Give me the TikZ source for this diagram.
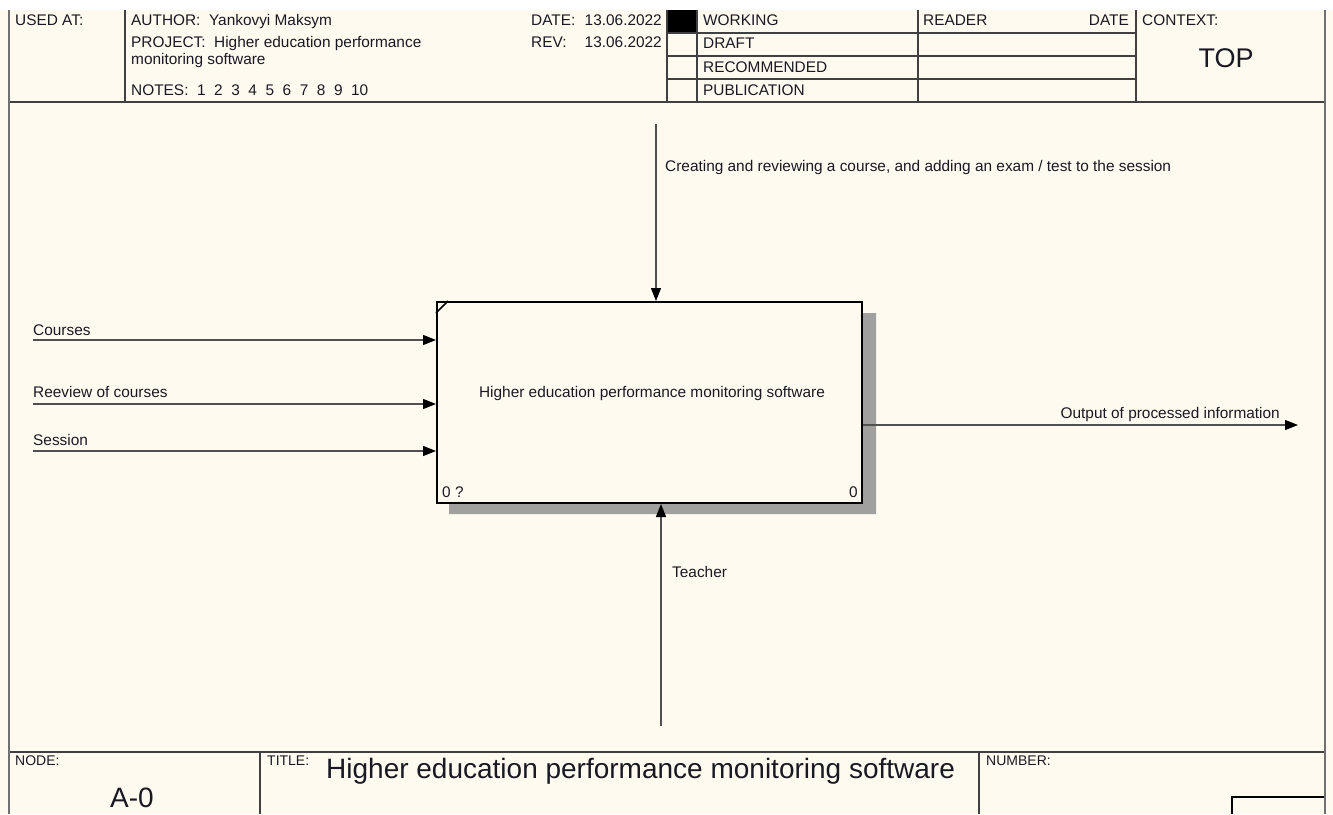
\documentclass[tikz,border=0pt]{standalone}
\usepackage{fontspec}
\setmainfont{Liberation Sans}
\usetikzlibrary{arrows.meta}
\definecolor{paper}{RGB}{255,250,239}
\definecolor{framegray}{RGB}{112,112,112}
\definecolor{gridgray}{RGB}{64,64,64}
\definecolor{linegray}{RGB}{80,80,80}
\definecolor{shadowgray}{RGB}{160,160,158}
\definecolor{ink}{RGB}{25,25,35}
\begin{document}
\begin{tikzpicture}[x=1pt,y=-1pt,
  txt/.style={font=\fontsize{15.4}{18}\selectfont, inner sep=0pt, anchor=base west, text=ink},
  txtr/.style={txt, anchor=base east},
  small/.style={txt, font=\fontsize{14}{16}\selectfont},
  big/.style={txt, font=\fontsize{28}{32}\selectfont},
  grid/.style={draw=gridgray, line width=1.3pt},
  frame/.style={draw=framegray, line width=2.4pt},
  flow/.style={draw=linegray, line width=1.2pt, -{Triangle[length=13pt,width=10pt,color=black]}},
  fnbox/.style={draw=black, line width=2pt, fill=paper, inner sep=0pt,
    minimum width=425pt, minimum height=201pt}
]
% page background
\useasboundingbox (0,0) rectangle (1333,814);
\fill[white] (0,0) rectangle (1333,10);
\fill[paper] (0,10) rectangle (1333,814);

% ---------- header ----------
\fill[black] (667,10) rectangle (697,33);
\draw[grid] (9,102) -- (1325,102);
\foreach \xx in {125,667,697,918,1136} \draw[grid] (\xx,10) -- (\xx,102);
\foreach \yy in {33,56,79} \draw[grid] (667,\yy) -- (1136,\yy);

\node[txt] (usedat) at (15,25) {USED AT:};
\node[txt] (author) at (131,25) {AUTHOR:\ \ Yankovyi Maksym};
\node[txt] (project) at (131,47) {PROJECT:\ \ Higher education performance};
\node[txt] (project2) at (131,64) {monitoring software};
\node[txt] (notes) at (131,95) {NOTES:\ \ 1\ \ 2\ \ 3\ \ 4\ \ 5\ \ 6\ \ 7\ \ 8\ \ 9\ \ 10};
\node[txt] (datelbl) at (531,25) {DATE:};
\node[txtr] (dateval) at (662,25) {13.06.2022};
\node[txt] (revlbl) at (531,47) {REV:};
\node[txtr] (revval) at (662,47) {13.06.2022};
\node[txt] (working) at (703,25) {WORKING};
\node[txt] (draft) at (703,48) {DRAFT};
\node[txt] (recommended) at (703,72) {RECOMMENDED};
\node[txt] (publication) at (703,95) {PUBLICATION};
\node[txt] (reader) at (923,25) {READER};
\node[txtr] (readerdate) at (1129,25) {DATE};
\node[txt] (context) at (1142,25) {CONTEXT:};
\node[txt, anchor=base, font=\fontsize{27}{30}\selectfont] (top) at (1226,67) {TOP};

% ---------- footer ----------
\draw[grid] (9,752) -- (1325,752);
\draw[grid] (260,752) -- (260,814);
\draw[grid] (979,752) -- (979,814);
\draw[draw=black, line width=1.2pt] (1232,814) -- (1232,797) -- (1325,797);
\node[small] (nodelbl) at (15,765) {NODE:};
\node[big, anchor=base] (nodeval) at (132,807) {A-0};
\node[small] (titlelbl) at (267,765) {TITLE:};
\node[big] (titleval) at (326,778) {Higher education performance monitoring software};
\node[small] (numberlbl) at (986,765) {NUMBER:};

% ---------- outer frame ----------
\draw[frame] (9,10) -- (9,814);
\draw[frame] (1325,10) -- (1325,814);

% ---------- activity box ----------
\fill[shadowgray] (449,503) -- (862,503) -- (862,313) -- (876,313) -- (876,514) -- (449,514) -- cycle;
\node[fnbox] (fn) at (649.5,402.5) {};
\draw[black, line width=1.6pt] ([yshift=-12pt]fn.north west) -- ([xshift=12pt]fn.north west);
\node[txt, anchor=base] (fnlabel) at (652,397) {Higher education performance monitoring software};
\node[txt] (fnnum) at (442,497) {0 ?};
\node[txtr] (fnnode) at (858,497) {0};

% ---------- control ----------
\coordinate (ctrlsrc) at (656,124);
\draw[flow] (ctrlsrc) -- (ctrlsrc |- fn.north);
\node[txt] (ctrllbl) at (665,171) {Creating and reviewing a course, and adding an exam / test to the session};

% ---------- inputs ----------
\coordinate (insrcA) at (33,340);
\coordinate (insrcB) at (33,404);
\coordinate (insrcC) at (33,451);
\draw[flow] (insrcA) -- (insrcA -| fn.west);
\draw[flow] (insrcB) -- (insrcB -| fn.west);
\draw[flow] (insrcC) -- (insrcC -| fn.west);
\node[txt] (inlblA) at (33,335) {Courses};
\node[txt] (inlblB) at (33,397) {Reeview of courses};
\node[txt] (inlblC) at (33,445) {Session};

% ---------- output ----------
\coordinate (outend) at (1298,425);
\draw[flow] (outend -| fn.east) -- (outend);
\node[txtr] (outlbl) at (1280,418) {Output of processed information};

% ---------- mechanism ----------
\coordinate (mechsrc) at (661,726);
\draw[flow] (mechsrc) -- (mechsrc |- fn.south);
\node[txt] (mechlbl) at (672,577) {Teacher};
\end{tikzpicture}
\end{document}
